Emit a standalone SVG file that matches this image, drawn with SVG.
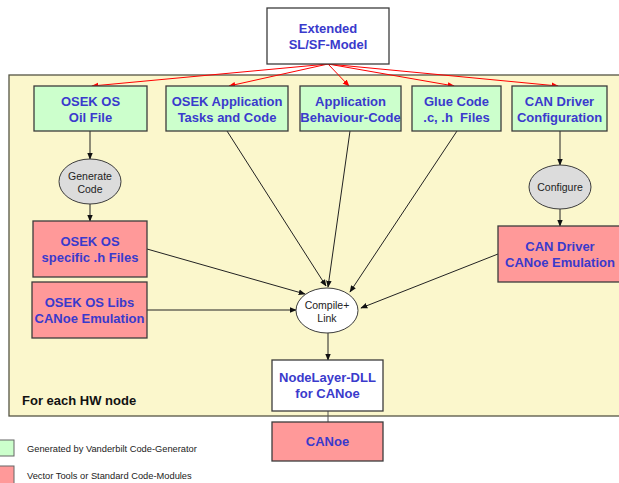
<svg xmlns="http://www.w3.org/2000/svg" width="619" height="483" viewBox="0 0 619 483">
<style>
.box{stroke:#3c3c3c;stroke-width:1.3}
.g{fill:#ccffcc}.r{fill:#ff9999}.w{fill:#ffffff}
.ell{fill:#dcdcdc;stroke:#3c3c3c;stroke-width:1}
.t{font-family:"Liberation Sans",Arial,sans-serif;font-weight:bold;font-size:13px;fill:#3a3acc;text-anchor:middle}
.s{font-family:"Liberation Sans",Arial,sans-serif;font-size:10.5px;fill:#222;text-anchor:middle}
.lg{font-family:"Liberation Sans",Arial,sans-serif;font-size:9.3px;fill:#222}
.red{stroke:#ff0000;stroke-width:1;fill:none;marker-end:url(#ar)}
.blk{stroke:#222;stroke-width:1;fill:none;marker-end:url(#ab)}
</style>
<defs>
<marker id="ar" viewBox="0 0 10 10" refX="9" refY="5" markerWidth="7" markerHeight="7" markerUnits="userSpaceOnUse" orient="auto"><path d="M0,1 L10,5 L0,9 z" fill="#ff0000"/></marker>
<marker id="ab" viewBox="0 0 10 10" refX="9" refY="5" markerWidth="7" markerHeight="7" markerUnits="userSpaceOnUse" orient="auto"><path d="M0,1 L10,5 L0,9 z" fill="#111"/></marker>
</defs>
<rect x="9" y="75" width="615" height="341" fill="#fbf7cc" stroke="#555544" stroke-width="1.3"/>
<text x="22" y="405" font-family="'Liberation Sans',Arial,sans-serif" font-weight="bold" font-size="13" fill="#111">For each HW node</text>
<g id="connectors">
<line class="red" x1="328" y1="64" x2="92" y2="86"/>
<line class="red" x1="328" y1="64" x2="229" y2="86"/>
<line class="red" x1="328" y1="64" x2="349" y2="86"/>
<line class="red" x1="328" y1="64" x2="454" y2="86"/>
<line class="red" x1="328" y1="64" x2="558" y2="86"/>
<line class="blk" x1="90" y1="131" x2="90" y2="159"/>
<line class="blk" x1="90" y1="204" x2="90" y2="221"/>
<line class="blk" x1="560" y1="131" x2="560" y2="165"/>
<line class="blk" x1="560" y1="209" x2="560" y2="226"/>
<line class="blk" x1="227" y1="131" x2="326" y2="286"/>
<line class="blk" x1="350" y1="131" x2="328" y2="287"/>
<line class="blk" x1="457" y1="131" x2="350" y2="292"/>
<line class="blk" x1="147" y1="249" x2="305" y2="294"/>
<line class="blk" x1="147" y1="310" x2="296" y2="310"/>
<line class="blk" x1="498" y1="254" x2="361" y2="308"/>
<line class="blk" x1="328" y1="333" x2="328" y2="360"/>
<line x1="328" y1="411" x2="328" y2="422" stroke="#555" stroke-width="1"/>
</g>
<g id="extended"><rect class="box w" x="267" y="8" width="122" height="56"/><text class="t" x="328" y="33">Extended</text><text class="t" x="328" y="49">SL/SF-Model</text></g>
<g id="oil"><rect class="box g" x="34" y="86" width="113" height="45"/><text class="t" x="90.5" y="106">OSEK OS</text><text class="t" x="90.5" y="122">Oil File</text></g>
<g id="app"><rect class="box g" x="166" y="86" width="122" height="45"/><text class="t" x="227" y="106">OSEK Application</text><text class="t" x="227" y="122">Tasks and Code</text></g>
<g id="behav"><rect class="box g" x="300" y="86" width="101" height="45"/><text class="t" x="350.5" y="106">Application</text><text class="t" x="350.5" y="122">Behaviour-Code</text></g>
<g id="glue"><rect class="box g" x="412" y="86" width="89" height="45"/><text class="t" x="456.5" y="106">Glue Code</text><text class="t" x="456.5" y="122" xml:space="preserve">.c, .h  Files</text></g>
<g id="candrv"><rect class="box g" x="512" y="86" width="95" height="45"/><text class="t" x="559.5" y="106">CAN Driver</text><text class="t" x="559.5" y="122">Configuration</text></g>
<g id="generate"><ellipse class="ell" cx="90" cy="181.5" rx="31" ry="22.5"/><text class="s" x="90" y="180">Generate</text><text class="s" x="90" y="193">Code</text></g>
<g id="configure"><ellipse class="ell" cx="560" cy="187" rx="31" ry="22"/><text class="s" x="560" y="191">Configure</text></g>
<g id="spech"><rect class="box r" x="33" y="221" width="114" height="56"/><text class="t" x="90" y="246">OSEK OS</text><text class="t" x="90" y="262">specific .h Files</text></g>
<g id="libs"><rect class="box r" x="32" y="282" width="115" height="56"/><text class="t" x="89.5" y="307">OSEK OS Libs</text><text class="t" x="89.5" y="323">CANoe Emulation</text></g>
<g id="canemu"><rect class="box r" x="498" y="226" width="130" height="56"/><text class="t" x="560" y="251">CAN Driver</text><text class="t" x="560" y="267">CANoe Emulation</text></g>
<g id="compile"><ellipse cx="327" cy="310.5" rx="31" ry="22.5" fill="#fff" stroke="#3c3c3c" stroke-width="1"/><text class="s" x="327" y="309">Compile+</text><text class="s" x="327" y="322">Link</text></g>
<g id="nodelayer"><rect class="box w" x="272" y="360" width="111" height="51"/><text class="t" x="327.5" y="382">NodeLayer-DLL</text><text class="t" x="327.5" y="398">for CANoe</text></g>
<g id="canoe"><rect class="box r" x="272" y="422" width="111" height="39"/><text class="t" x="327.5" y="446">CANoe</text></g>
<g id="legend">
<rect x="-2" y="440" width="16" height="16" fill="#ccffcc" stroke="#666" stroke-width="1"/>
<rect x="-2" y="466" width="16" height="20" fill="#ff9999" stroke="#666" stroke-width="1"/>
<text class="lg" x="27" y="452">Generated by Vanderbilt Code-Generator</text>
<text class="lg" x="27" y="479">Vector Tools or Standard Code-Modules</text>
</g>
</svg>
